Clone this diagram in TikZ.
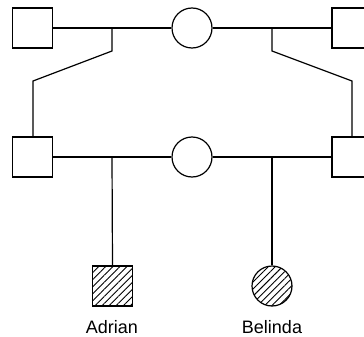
\documentclass[tikz,border=0pt]{standalone}
\usepackage{fontspec}
\setmainfont{Liberation Sans}
\usetikzlibrary{patterns.meta}
\begin{document}
\begin{tikzpicture}[x=1pt,y=-1pt,
  male/.style={draw, line width=1.2pt, rectangle, minimum size=40pt, inner sep=0pt},
  female/.style={draw, line width=1.2pt, circle, minimum size=40pt, inner sep=0pt},
  affected/.style={pattern={Lines[angle=45,distance=5pt,line width=0.9pt]}},
  link/.style={line width=1.2pt},
  lab/.style={font=\fontsize{18}{21}\selectfont, inner sep=0pt}]
\clip (0,0) rectangle (364,337);
\useasboundingbox (0,0) rectangle (364,337);
% top generation
\node[male] (tl) at (32.5,28) {};
\node[female] (tc) at (192,28) {};
\node[male] (tr) at (352,28) {};
% middle generation
\node[male] (ml) at (32.5,157) {};
\node[female] (mc) at (192,157) {};
\node[male] (mr) at (352,157) {};
% children
\node[male, affected] (adrian) at (112.5,286) {};
\node[female, affected] (belinda) at (272,286) {};
\node[lab] (la) at (112,327) {Adrian};
\node[lab] (lb) at (272,327) {Belinda};
% coordinates
\coordinate (j1) at (112,28);
\coordinate (j1b) at (112,51);
\coordinate (k1) at (33,81);
\coordinate (j2) at (272,28);
\coordinate (j2b) at (272,51);
\coordinate (k2) at (352,81);
\coordinate (j3) at (112,157);
\coordinate (j4) at (272,157);
% marriage lines
\draw[link] (tl) -- (tc);
\draw[link] (tc) -- (tr);
\draw[link] (ml) -- (mc);
\draw[link] (mc) -- (mr);
% descent lines
\draw[link] (j1) -- (j1b) -- (k1) -- (k1 |- ml.north);
\draw[link] (j2) -- (j2b) -- (k2) -- (k2 |- mr.north);
\draw[link] (j3) -- (adrian.north);
\draw[link] (j4) -- (belinda.north);
\end{tikzpicture}
\end{document}
